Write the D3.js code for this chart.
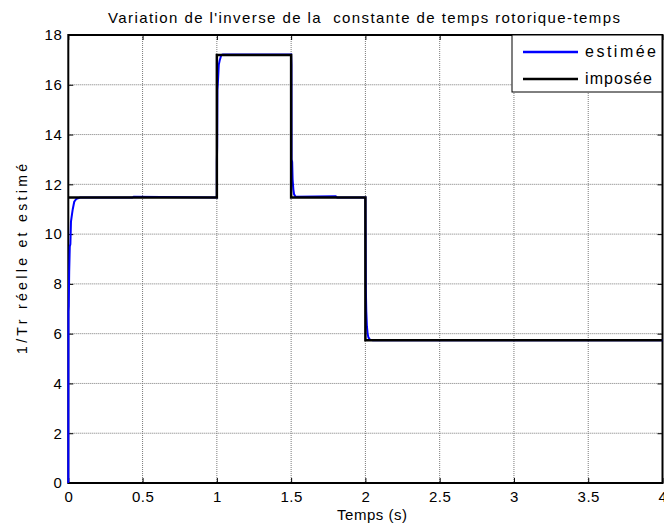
<!DOCTYPE html>
<html>
<head>
<meta charset="utf-8">
<script src="https://cdn.jsdelivr.net/npm/d3@7"></script>
<style>
  body { margin: 0; background: #fff; }
  text { font-family: "Liberation Sans", Arial, sans-serif; fill: #000; }
</style>
</head>
<body>
<div id="vis"></div>
<script>
// declare constant
const FRAME_HEIGHT = 524
const FRAME_WIDTH = 664
const MARGINS = {left: 68.3, right: 1.5, top: 35, bottom: 41}

const VIS_HEIGHT = FRAME_HEIGHT - MARGINS.top - MARGINS.bottom;
const VIS_WIDTH = FRAME_WIDTH - MARGINS.left - MARGINS.right;

// data
const xTicks = [0, 0.5, 1, 1.5, 2, 2.5, 3, 3.5, 4]
const yTicks = [0, 2, 4, 6, 8, 10, 12, 14, 16, 18]

// imposed 1/Tr (step profile)
const impT = [0, 1, 1, 1.5, 1.5, 2, 2, 4]
const impV = [11.47, 11.47, 17.2, 17.2, 11.47, 11.47, 5.74, 5.74]

// estimated 1/Tr
const estT = [0, 0.001, 0.003, 0.006, 0.01, 0.014, 0.018, 0.025, 0.03, 0.04, 0.055, 0.08, 0.43, 0.44, 1.0,
              1.0, 1.002, 1.004, 1.008, 1.013, 1.02, 1.03, 1.04, 1.5, 1.502, 1.503, 1.507, 1.51, 1.515,
              1.52, 1.53, 1.8, 1.81, 2.0, 2.003, 2.006, 2.01, 2.015, 2.02, 2.03, 2.05, 4.0]
const estV = [0, 6.9, 7.1, 8.5, 9.5, 9.6, 10.5, 10.8, 11.0, 11.3, 11.42, 11.47, 11.47, 11.5, 11.47,
              12.9, 13.5, 15.8, 16.2, 16.8, 17.0, 17.2, 17.22, 17.22, 16.8, 13.0, 12.9, 12.2, 11.8,
              11.6, 11.5, 11.52, 11.47, 11.47, 7.8, 6.9, 6.3, 6.0, 5.85, 5.76, 5.74, 5.74]

const FRAME1 = d3.select('#vis')
                  .append('svg')
                  .attr('height', FRAME_HEIGHT)
                  .attr('width', FRAME_WIDTH)

const x = d3.scaleLinear().domain([0, 4]).range([0, VIS_WIDTH]);
const y = d3.scaleLinear().domain([0, 18]).range([VIS_HEIGHT, 0]);

const plot = FRAME1.append("g")
    .attr("transform", "translate(" + MARGINS.left + "," + MARGINS.top + ")");

// grid (dotted)
plot.append("g")
    .selectAll("line")
    .data(xTicks.slice(1, -1))
    .enter().append("line")
      .attr("x1", d => x(d)).attr("x2", d => x(d))
      .attr("y1", 0).attr("y2", VIS_HEIGHT)
      .attr("stroke", "#7a7a7a").attr("stroke-width", 1)
      .attr("stroke-dasharray", "1,1");

plot.append("g")
    .selectAll("line")
    .data(yTicks.slice(1, -1))
    .enter().append("line")
      .attr("y1", d => y(d)).attr("y2", d => y(d))
      .attr("x1", 0).attr("x2", VIS_WIDTH)
      .attr("stroke", "#7a7a7a").attr("stroke-width", 1)
      .attr("stroke-dasharray", "1,1");

// axes (matlab style, ticks pointing inward)
const xAxis = plot.append("g")
    .attr("transform", "translate(0," + VIS_HEIGHT + ")")
    .call(d3.axisBottom(x).tickValues(xTicks).tickSizeInner(-5).tickSizeOuter(0).tickPadding(8).tickFormat(d3.format("")));
const xAxisTop = plot.append("g")
    .call(d3.axisTop(x).tickValues(xTicks).tickSizeInner(-5).tickSizeOuter(0).tickFormat(""));
const yAxis = plot.append("g")
    .call(d3.axisLeft(y).tickValues(yTicks).tickSizeInner(-5).tickSizeOuter(0).tickPadding(6));
const yAxisRight = plot.append("g")
    .attr("transform", "translate(" + VIS_WIDTH + ",0)")
    .call(d3.axisRight(y).tickValues(yTicks).tickSizeInner(-5).tickSizeOuter(0).tickFormat(""));

[xAxis, xAxisTop, yAxis, yAxisRight].forEach(a => {
  a.select(".domain").remove();
  a.selectAll("line").attr("stroke", "#000");
  a.selectAll("text").attr("font-size", "15px").attr("letter-spacing", "0.5px")
   .attr("font-family", "Liberation Sans, Arial, sans-serif");
});

// box
plot.append("rect")
    .attr("x", 0).attr("y", 0)
    .attr("width", VIS_WIDTH).attr("height", VIS_HEIGHT)
    .attr("fill", "none").attr("stroke", "#000").attr("stroke-width", 2);

// lines
const line = d3.line()
    .x(d => x(d[0]))
    .y(d => y(d[1]));

plot.append("path")
    .datum(estT.map((t, i) => [t, estV[i]]))
    .attr("fill", "none")
    .attr("stroke", "#0000ff")
    .attr("stroke-width", 2)
    .attr("d", line);

plot.append("path")
    .datum(impT.map((t, i) => [t, impV[i]]))
    .attr("fill", "none")
    .attr("stroke", "#000")
    .attr("stroke-width", 2.5)
    .attr("d", line);

// legend
const legend = FRAME1.append("g").attr("transform", "translate(512,35)");
legend.append("rect")
    .attr("width", 150).attr("height", 57)
    .attr("fill", "#fff").attr("stroke", "#000").attr("stroke-width", 1);
const legendItems = [["estimée", "#0000ff", 71], ["imposée", "#000", 67]];
legendItems.forEach((it, i) => {
  legend.append("line")
      .attr("x1", 11).attr("x2", 66)
      .attr("y1", 17 + i * 27).attr("y2", 17 + i * 27)
      .attr("stroke", it[1]).attr("stroke-width", 2.5);
  legend.append("text")
      .attr("x", 73).attr("y", 22 + i * 27)
      .attr("font-size", "16px")
      .attr("textLength", it[2])
      .attr("lengthAdjust", "spacing")
      .text(it[0]);
});

// title and labels
FRAME1.append("text")
    .attr("x", 364).attr("y", 23)
    .attr("text-anchor", "middle")
    .attr("font-size", "15px")
    .attr("textLength", 512)
    .attr("lengthAdjust", "spacing")
    .style("white-space", "pre")
    .text("Variation de l'inverse de la  constante de temps rotorique-temps");

FRAME1.append("text")
    .attr("x", 372).attr("y", 520)
    .attr("text-anchor", "middle")
    .attr("font-size", "15px")
    .attr("textLength", 70)
    .attr("lengthAdjust", "spacing")
    .text("Temps (s)");

FRAME1.append("text")
    .attr("transform", "translate(27,259) rotate(-90)")
    .attr("text-anchor", "middle")
    .attr("font-size", "14px")
    .attr("textLength", 190)
    .attr("lengthAdjust", "spacing")
    .text("1/Tr réelle et estimé");
</script>
</body>
</html>
